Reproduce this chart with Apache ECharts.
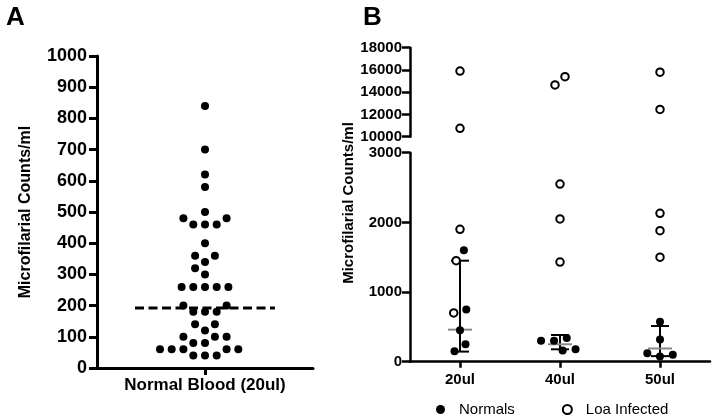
<!DOCTYPE html>
<html>
<head>
<meta charset="utf-8">
<script src="https://cdn.jsdelivr.net/npm/echarts@6/dist/echarts.min.js"></script>
<style>html,body{margin:0;padding:0;background:#fff}#main{width:715px;height:420px}</style>
</head>
<body>
<div id="main"></div>
<script>
// ---------- data ----------
const catA = ['Normal Blood (20ul)'];
const valuesA = [840, 700, 620, 580, 500, 480, 480, 460, 460, 460, 400, 360, 360, 340, 320, 300,
  260, 260, 260, 260, 260, 200, 200, 180, 180, 180, 140, 140, 120, 100, 100, 100, 80, 80,
  60, 60, 60, 60, 60, 40, 40, 40];
const medianA = 192;
const yTicksA = [0, 1000, 100];          // min, max, interval

const catB = ['20ul', '40ul', '50ul'];
const normals20 = [1600, 750, 450, 250, 150];
const normals40 = [300, 340, 300, 160, 180];
const normals50 = [575, 320, 120, 75, 100];
const loa20 = [15900, 10750, 1900, 1450, 700];
const loa40 = [15400, 14650, 2550, 2050, 1430];
const loa50 = [15800, 12450, 2130, 1880, 1500];
const medianB = [460, 250, 190];
const lowB = [145, 178, 80];
const highB = [1450, 383, 512];
const yTicksBLow = [0, 3000, 1000];
const yTicksBHigh = [10000, 18000, 2000];

const normalsB = [normals20, normals40, normals50];
const loaB = [loa20, loa40, loa50];

// ---------- chart ----------
const FONT = "'Liberation Sans', Arial, sans-serif";
const chart = echarts.init(document.getElementById('main'));
const plain = v => String(v);

function axisBase(w, tickLen) {
  return {
    axisLine: { show: true, lineStyle: { color: '#000', width: w } },
    axisTick: { show: true, length: tickLen, lineStyle: { color: '#000', width: w } },
    splitLine: { show: false }
  };
}

const option = {
  animation: false,
  backgroundColor: '#fff',
  textStyle: { fontFamily: FONT },
  grid: [
    { left: 97, top: 56, width: 216, height: 312 },
    { left: 410, top: 47.7, width: 300, height: 89 },
    { left: 410, top: 152.7, width: 300, height: 209 }
  ],
  xAxis: [
    Object.assign(axisBase(3, 7), {
      type: 'category', gridIndex: 0, data: catA,
      axisTick: { show: true, alignWithLabel: true, length: 7, lineStyle: { color: '#000', width: 3 } },
      axisLabel: { color: '#000', fontWeight: 'bold', fontSize: 17, margin: 9, fontFamily: FONT }
    }),
    { type: 'category', gridIndex: 1, data: catB, show: false },
    Object.assign(axisBase(2.5, 6), {
      type: 'category', gridIndex: 2, data: catB,
      axisTick: { show: true, alignWithLabel: true, length: 6, lineStyle: { color: '#000', width: 2.5 } },
      axisLabel: { color: '#000', fontWeight: 'bold', fontSize: 15, margin: 11, fontFamily: FONT }
    })
  ],
  yAxis: [
    Object.assign(axisBase(3, 8), {
      type: 'value', gridIndex: 0, min: yTicksA[0], max: yTicksA[1], interval: yTicksA[2],
      axisLabel: { color: '#000', fontWeight: 'bold', fontSize: 18, margin: 10, fontFamily: FONT, formatter: plain },
      name: 'Microfilarial Counts/ml', nameLocation: 'middle', nameGap: 63, nameRotate: 90,
      nameTextStyle: { color: '#000', fontWeight: 'bold', fontSize: 16, fontFamily: FONT }
    }),
    Object.assign(axisBase(2.5, 8), {
      type: 'value', gridIndex: 1, min: yTicksBHigh[0], max: yTicksBHigh[1], interval: yTicksBHigh[2],
      axisLabel: { color: '#000', fontWeight: 'bold', fontSize: 15, margin: 8, fontFamily: FONT, formatter: plain }
    }),
    Object.assign(axisBase(2.5, 8), {
      type: 'value', gridIndex: 2, min: yTicksBLow[0], max: yTicksBLow[1], interval: yTicksBLow[2],
      axisLabel: { color: '#000', fontWeight: 'bold', fontSize: 15, margin: 8, fontFamily: FONT, formatter: plain }
    })
  ],
  legend: {
    data: ['Normals', 'Loa Infected'],
    left: 431, top: 397,
    itemWidth: 9, itemHeight: 9, itemGap: 47,
    textStyle: { color: '#000', fontSize: 15, fontFamily: FONT, padding: [0, 0, 0, 9] }
  },
  graphic: [
    { type: 'text', left: 6, top: 5, style: { text: 'A', font: 'bold 26px ' + FONT, fill: '#000' } },
    { type: 'text', left: 363, top: 5, style: { text: 'B', font: 'bold 26px ' + FONT, fill: '#000' } },
    { type: 'text', x: 349, y: 203, rotation: Math.PI / 2,
      style: { text: 'Microfilarial Counts/ml', font: 'bold 15px ' + FONT, fill: '#000', align: 'center', verticalAlign: 'middle' } }
  ],
  series: []
};
chart.setOption(option);

// ---------- swarm layout (pixel-space, from the axes) ----------
function swarm(ys, d, centerClusters, sideSign) {
  const n = ys.length;
  const order = ys.map((_, i) => i).sort((a, b) => ys[b] - ys[a]);
  const xs = new Array(n);
  const placed = [];
  for (const i of order) {
    const y = ys[i];
    const near = placed.filter(j => Math.abs(ys[j] - y) < d);
    const cands = [0];
    near.forEach(j => {
      const dx = Math.sqrt(d * d - (ys[j] - y) * (ys[j] - y));
      cands.push(xs[j] + dx, xs[j] - dx);
    });
    cands.sort((a, b) => Math.abs(a) - Math.abs(b) || sideSign * (b - a));
    xs[i] = cands.find(c => near.every(j => (xs[j] - c) ** 2 + (ys[j] - y) ** 2 >= d * d - 0.01));
    placed.push(i);
  }
  if (centerClusters) {
    const parent = ys.map((_, i) => i);
    const find = i => parent[i] === i ? i : (parent[i] = find(parent[i]));
    for (let i = 0; i < n; i++) for (let j = i + 1; j < n; j++) {
      if ((xs[i] - xs[j]) ** 2 + (ys[i] - ys[j]) ** 2 <= (d + 0.5) ** 2) parent[find(i)] = find(j);
    }
    const groups = {};
    for (let i = 0; i < n; i++) (groups[find(i)] = groups[find(i)] || []).push(i);
    Object.values(groups).forEach(g => {
      const m = g.reduce((s, i) => s + xs[i], 0) / g.length;
      g.forEach(i => { xs[i] -= m; });
    });
  }
  return xs;
}

function py(grid, cat, v) { return chart.convertToPixel({ gridIndex: grid }, [cat, v])[1]; }

// panel A
const ysA = valuesA.map(v => py(0, 0, v));
const xsA = swarm(ysA, 11.7, false, -1);
const dataA = valuesA.map((v, i) => ({ value: [0, v], symbolOffset: [xsA[i], 0] }));

// panel B
const normData = [], loaLowData = [], loaHighData = [];
catB.forEach((c, ci) => {
  const pts = [];
  loaB[ci].forEach(v => pts.push({ v, kind: 'l', grid: v > yTicksBLow[1] ? 1 : 2 }));
  normalsB[ci].forEach(v => pts.push({ v, kind: 'n', grid: 2 }));
  const ys = pts.map(p => py(p.grid, ci, p.v));
  const xs = swarm(ys, 13, true, 1);
  pts.forEach((p, i) => {
    const item = { value: [ci, p.v], symbolOffset: [xs[i], 0] };
    if (p.kind === 'n') normData.push(item);
    else if (p.grid === 1) loaHighData.push(item);
    else loaLowData.push(item);
  });
});

const errData = catB.map((c, i) => [i, medianB[i], lowB[i], highB[i]]);

const openStyle = { color: '#fff', borderColor: '#000', borderWidth: 2, opacity: 1 };
const solidStyle = { color: '#000', opacity: 1 };

chart.setOption({
  series: [
    {
      name: 'Normal Blood', type: 'scatter', xAxisIndex: 0, yAxisIndex: 0,
      symbol: 'circle', symbolSize: 8, itemStyle: solidStyle, data: dataA, z: 3
    },
    {
      name: 'Median A', type: 'custom', xAxisIndex: 0, yAxisIndex: 0, z: 4,
      data: [[0, medianA]],
      renderItem: function (params, api) {
        const p = api.coord([api.value(0), api.value(1)]);
        const half = api.size([1, 0])[0] * 0.324;
        return { type: 'line', shape: { x1: p[0] - half, y1: p[1], x2: p[0] + half, y2: p[1] },
          style: { stroke: '#000', lineWidth: 3, lineDash: [9, 4.5] } };
      }
    },
    {
      name: 'Error', type: 'custom', xAxisIndex: 2, yAxisIndex: 2, z: 2,
      data: errData,
      renderItem: function (params, api) {
        const ci = api.value(0);
        const pm = api.coord([ci, api.value(1)]);
        const pl = api.coord([ci, api.value(2)]);
        const ph = api.coord([ci, api.value(3)]);
        const bw = api.size([1, 0])[0];
        const cap = bw * 0.09, mh = bw * 0.12;
        const black = { stroke: '#000', lineWidth: 2 };
        return { type: 'group', children: [
          { type: 'line', shape: { x1: pl[0], y1: pl[1], x2: ph[0], y2: ph[1] }, style: black },
          { type: 'line', shape: { x1: pl[0] - cap, y1: pl[1], x2: pl[0] + cap, y2: pl[1] }, style: black },
          { type: 'line', shape: { x1: ph[0] - cap, y1: ph[1], x2: ph[0] + cap, y2: ph[1] }, style: black },
          { type: 'line', shape: { x1: pm[0] - mh, y1: pm[1], x2: pm[0] + mh, y2: pm[1] }, style: { stroke: '#888', lineWidth: 2 } }
        ] };
      }
    },
    {
      name: 'Normals', type: 'scatter', xAxisIndex: 2, yAxisIndex: 2, z: 3,
      symbol: 'circle', symbolSize: 8, itemStyle: solidStyle, data: normData
    },
    {
      name: 'Loa Infected', type: 'scatter', xAxisIndex: 2, yAxisIndex: 2, z: 3,
      symbol: 'circle', symbolSize: 7.5, itemStyle: openStyle, data: loaLowData
    },
    {
      name: 'Loa Infected', type: 'scatter', xAxisIndex: 1, yAxisIndex: 1, z: 3,
      symbol: 'circle', symbolSize: 7.5, itemStyle: openStyle, data: loaHighData
    }
  ]
});
</script>
</body>
</html>
